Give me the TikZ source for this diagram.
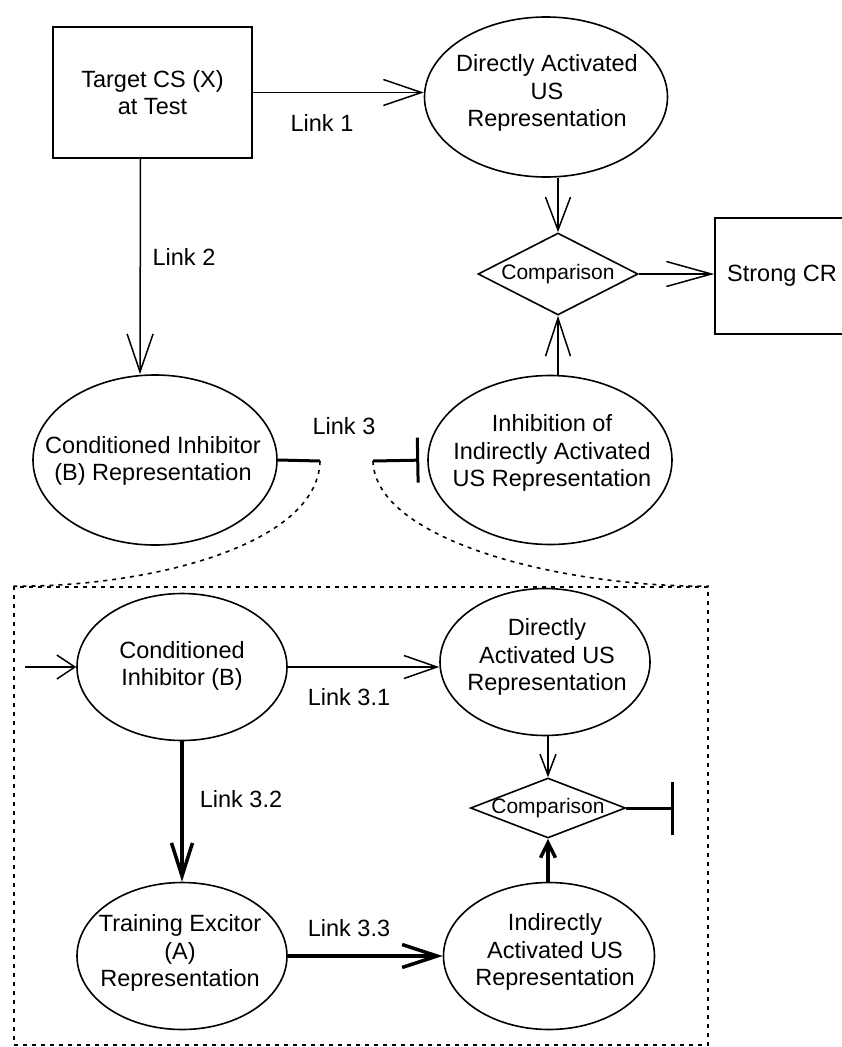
\documentclass[tikz,border=0pt]{standalone}
\usepackage{fontspec}
\setmainfont{Liberation Sans}
\usetikzlibrary{arrows.meta,shapes.geometric}

\begin{document}
\begin{tikzpicture}[x=1pt, y=-1pt,
    every node/.style={font=\fontsize{23.5pt}{27.5pt}\selectfont},
    box/.style={draw, line width=1.6pt, inner sep=0pt, align=center},
    ell/.style={ellipse, draw, line width=1.6pt, inner sep=0pt},
    txt/.style={inner sep=0pt, align=center},
    cmp/.style={diamond, draw, line width=1.6pt, inner sep=0pt, font=\fontsize{21pt}{24pt}\selectfont},
    lbl/.style={inner sep=0pt},
    link/.style={line width=1.5pt},
    strong/.style={line width=3.5pt},
    zoombox/.style={line width=1.6pt, dash pattern=on 4pt off 5pt}]
    \useasboundingbox[fill=white] (0,0) rectangle (841,1047);

    % upper part
    \node[box, minimum width=199pt, minimum height=131pt] (boxX) at (152.5,92.5) {Target CS (X)\\at Test};
    \node[ell, minimum width=243pt, minimum height=160pt] (ellA) at (546,97) {};
    \node[txt] (tA) at (547,93) {Directly Activated\\US\\Representation};
    \node[cmp, minimum width=160pt, minimum height=82pt] (cmpA) at (558,274) {\makebox[0pt]{Comparison}};
    \node[box, minimum width=160pt, minimum height=116pt] (boxCR) at (795,276) {Strong CR\hspace{26pt}};
    \node[ell, minimum width=244pt, minimum height=170pt] (ellB) at (155,460) {};
    \node[txt] (tB) at (153,461) {Conditioned Inhibitor\\(B) Representation};
    \node[ell, minimum width=244pt, minimum height=169pt] (ellI) at (550,460) {};
    \node[txt] (tI) at (552,453) {Inhibition of\\Indirectly Activated\\US Representation};
    \coordinate (l3a) at (320,461);
    \coordinate (l3b) at (373,461);

    \node[lbl] (lk1) at (322,123) {Link 1};
    \node[lbl] (lk2) at (184,257) {Link 2};
    \node[lbl] (lk3) at (344,426) {Link 3};

    \draw[link, -{Straight Barb[length=38pt, width=26pt]}] (boxX.east) -- (boxX.east -| ellA.west);
    \draw[link, -{Straight Barb[length=38pt, width=26pt]}] ([xshift=-12pt]boxX.south) -- ([xshift=-15pt]ellB.north);
    \draw[link, -{Straight Barb[length=33pt, width=25pt]}] (cmpA.north |- ellA.south) -- (cmpA.north);
    \draw[link, -{Straight Barb[length=38pt, width=25pt]}] (cmpA.south |- ellI.north) -- (cmpA.south);
    \draw[link, -{Straight Barb[length=45pt, width=25pt]}] (cmpA.east) -- (cmpA.east -| boxCR.west);
    \draw[line width=3pt] (ellB.east) -- (l3a);
    \draw[line width=3pt, -{Bar[width=45pt]}, shorten >=8pt] (l3b) -- (ellI.west);

    % expanded view of link 3
    \node[draw, zoombox, minimum width=694pt, minimum height=458pt, inner sep=0pt] (zoom) at (361,816) {};
    \draw[zoombox] (l3a) .. controls (318,545) and (150,587) .. (zoom.north west);
    \draw[zoombox] (l3b) .. controls (375,540) and (560,587) .. (zoom.north east);

    \node[ell, minimum width=210pt, minimum height=147pt] (ellCI) at (182,667) {};
    \node[txt] (tCI) at (182,666) {Conditioned\\Inhibitor (B)};
    \node[ell, minimum width=210pt, minimum height=147pt] (ellDA) at (545,662) {};
    \node[txt] (tDA) at (547,657) {Directly\\Activated US\\Representation};
    \node[cmp, minimum width=155pt, minimum height=60pt] (cmpB) at (548,808) {\makebox[0pt]{Comparison}};
    \node[ell, minimum width=210pt, minimum height=147pt] (ellTE) at (182,956) {};
    \node[txt] (tTE) at (180,953) {Training Excitor\\(A)\\Representation};
    \node[ell, minimum width=211pt, minimum height=147pt] (ellIA) at (549,956) {};
    \node[txt] (tIA) at (555,952) {Indirectly\\Activated US\\Representation};
    \coordinate (inB) at (25,667);
    \coordinate (inhB) at (674,808);

    \node[lbl] (lk31) at (349,697) {Link 3.1};
    \node[lbl] (lk32) at (241,799) {Link 3.2};
    \node[lbl] (lk33) at (349,928) {Link 3.3};

    \draw[link, -{Straight Barb[length=18pt, width=24pt]}] (inB) -- (ellCI.west);
    \draw[link, -{Straight Barb[length=33pt, width=23pt]}] (ellCI.east) -- (ellCI.east -| ellDA.west);
    \draw[link, -{Straight Barb[length=21pt, width=16pt]}] (cmpB.north |- ellDA.south) -- (cmpB.north);
    \draw[line width=3pt, -{Bar[width=53pt]}] (cmpB.east) -- (inhB);
    \draw[strong, -{Straight Barb[length=33pt, width=21pt]}] (ellCI.south) -- (ellTE.north);
    \draw[strong, -{Straight Barb[length=35pt, width=23pt]}] (ellTE.east) -- (ellIA.west);
    \draw[strong, -{Straight Barb[length=15pt, width=15pt]}] (cmpB.south |- ellIA.north) -- (cmpB.south);
\end{tikzpicture}
\end{document}
